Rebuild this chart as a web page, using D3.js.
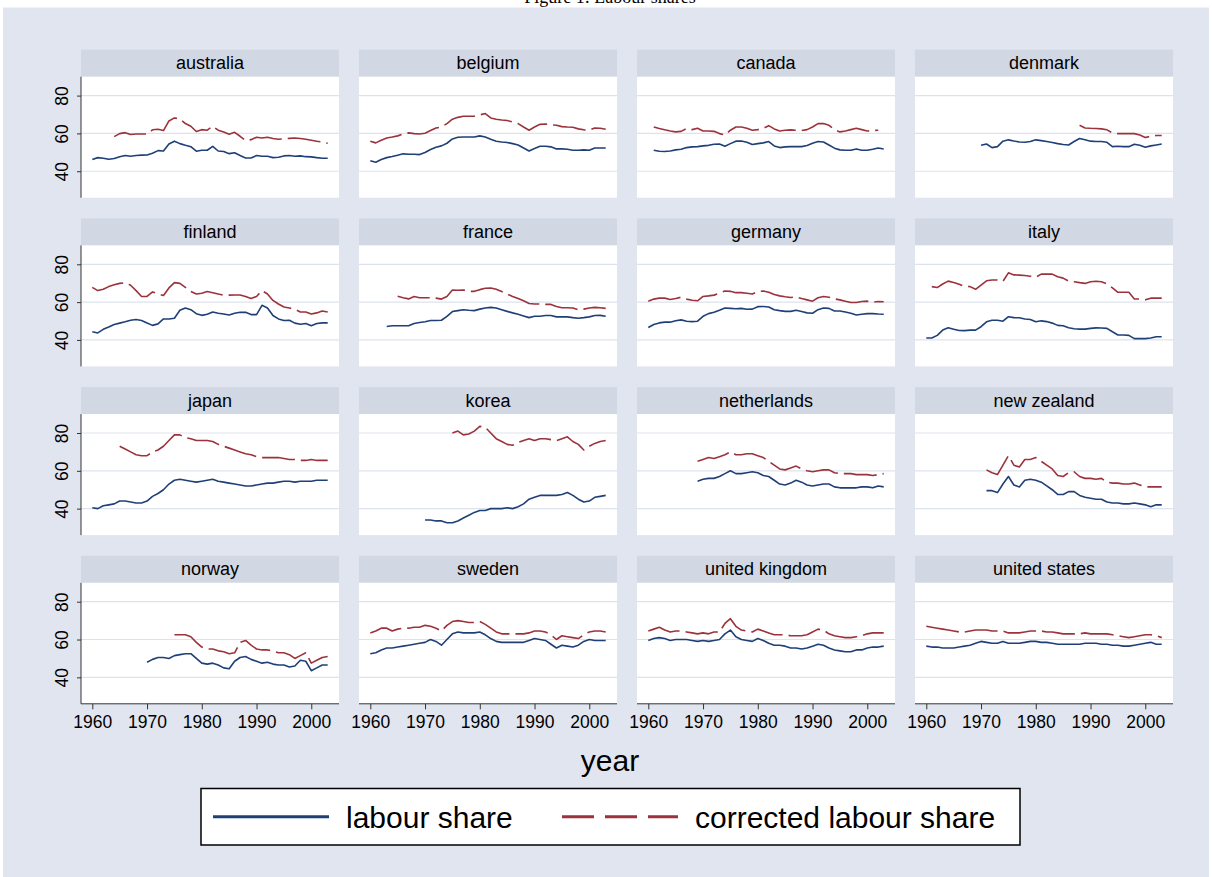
<!DOCTYPE html>
<html>
<head>
<meta charset="utf-8">
<script src="https://cdn.jsdelivr.net/npm/d3@7"></script>
<style>
  body { margin: 0; background: #fff; }
  svg { display: block; font-family: "Liberation Sans", Arial, sans-serif; }
</style>
</head>
<body>
<svg id="chart" width="1212" height="877"></svg>
<script>
'use strict';

const countries = ['australia', 'belgium', 'canada', 'denmark',
  'finland', 'france', 'germany', 'italy',
  'japan', 'korea', 'netherlands', 'new zealand',
  'norway', 'sweden', 'united kingdom', 'united states'];

const xTicks = [1960, 1970, 1980, 1990, 2000];
const yTicks = [40, 60, 80];
const seriesNames = ['labour share', 'corrected labour share'];

// first year of each series, per country
const lsStart = [1960, 1960, 1961, 1970, 1960, 1963, 1960, 1960, 1960, 1970, 1969, 1971, 1970, 1960, 1960, 1960];
const clsStart = [1964, 1960, 1961, 1988, 1960, 1965, 1960, 1961, 1965, 1975, 1969, 1971, 1975, 1960, 1960, 1960];

// labour share, yearly
const labourShare = [
  [46.2,47.2,46.9,46.3,46.7,47.7,48.3,47.9,48.3,48.5, 48.6,49.5,50.9,50.7,54.4,55.9,54.6,53.7,53.0,50.6, 51.1,51.1,53.2,50.7,50.4,49.3,49.8,48.3,47.0,47.0, 48.3,47.9,47.9,47.2,47.4,48.1,48.3,47.9,48.1,47.7, 47.6,47.2,46.9,46.9],
  [45.5,44.8,46.2,47.2,47.8,48.5,49.2,49.0,49.0,48.8, 49.9,51.5,52.7,53.4,54.8,57.1,58.0,58.1,58.1,58.1, 58.7,58.1,56.9,55.9,55.5,55.2,54.6,53.9,52.3,50.7, 52.0,53.2,53.2,52.9,51.8,51.8,51.6,51.1,51.1,51.3, 51.1,52.3,52.3,52.3],
  [51.1,50.6,50.4,50.7,51.3,51.6,52.5,52.9,53.0, 53.4,53.7,54.3,54.4,53.2,54.6,55.9,56.0,55.3,54.1, 54.6,55.0,55.7,53.4,52.5,52.9,53.0,53.0,53.0,53.6, 54.8,55.7,55.5,53.9,52.2,51.3,51.1,51.1,51.8,51.1, 51.1,51.6,52.3,51.8],
  [53.7,54.4,52.5,53.0,55.9,56.6,56.0,55.5,55.3,55.7, 56.6,56.2,55.7,55.2,54.6,54.1,53.9,55.7,57.3,56.6, 55.9,55.7,55.7,55.3,53.0,53.2,53.0,53.0,54.3,53.7, 52.7,53.4,53.9,54.4],
  [44.3,43.7,45.6,46.8,48.2,48.9,49.6,50.4,50.8,50.3, 49.0,47.7,48.5,51.1,51.1,51.5,55.7,56.9,56.0,53.9, 53.0,53.6,54.8,54.1,53.7,53.2,54.1,54.6,54.6,53.4, 53.4,58.3,56.9,52.9,51.1,50.3,50.4,48.9,48.3,48.7, 47.5,48.7,49.0,49.0],
  [47.1,47.5,47.5,47.5,47.5,48.7,49.2, 49.6,50.3,50.3,50.4,52.5,55.0,55.5,56.0,55.7,55.5, 56.3,56.9,57.2,56.9,56.0,55.1,54.3,53.6,52.7,51.8, 52.5,52.5,52.9,52.9,52.2,52.2,52.2,51.8,51.5,51.8, 52.2,52.9,53.0,52.5],
  [46.6,48.2,49.0,49.4,49.4,50.1,50.6,49.9,49.7,49.9, 52.5,53.9,54.6,55.7,56.9,56.7,56.5,56.7,56.2,56.3, 57.6,57.7,57.4,56.0,55.5,55.1,55.1,55.7,55.0,54.3, 54.1,56.0,56.9,56.7,55.3,55.3,54.8,54.1,53.2,53.6, 53.9,53.9,53.7,53.6],
  [41.0,41.0,42.4,45.2,46.4,45.7,45.0,44.9,45.2,45.2, 47.0,49.6,50.4,50.4,49.9,52.3,51.8,51.7,51.1,50.8, 49.6,50.1,49.7,48.9,47.7,47.5,46.4,45.9,45.7,45.7, 46.1,46.4,46.3,46.1,44.3,42.6,42.6,42.4,40.7,40.7, 40.7,41.0,41.7,41.7],
  [40.5,40.0,41.5,42.0,42.5,44.0,44.0,43.5,43.0,43.0, 44.0,46.5,48.0,50.0,53.0,55.0,55.5,55.0,54.5,54.0, 54.5,55.0,55.5,54.5,54.0,53.5,53.0,52.5,52.0,52.0, 52.5,53.0,53.5,53.5,54.0,54.5,54.5,54.0,54.5,54.5, 54.5,55.0,55.0,55.0],
  [34.0,34.0,33.5,33.5,32.5,32.5,33.5,35.0,36.5,38.0, 39.0,39.0,40.0,40.0,40.0,40.5,40.0,41.0,42.5,45.0, 46.0,47.0,47.0,47.0,47.0,47.5,48.5,47.0,45.0,43.5, 44.0,46.0,46.5,47.0],
  [54.5, 55.5,56.0,56.0,57.0,58.5,60.0,58.5,58.5,59.0,59.5, 59.0,57.5,57.0,55.0,53.0,52.5,53.5,55.0,54.0,52.5, 52.0,52.5,53.0,53.0,51.5,51.0,51.0,51.0,51.0,51.5, 51.5,51.0,52.0,51.5],
  [49.5,49.5,48.5,53.0,57.0,52.5,51.5,55.0,55.5, 55.0,54.0,52.0,50.0,47.5,47.5,49.0,49.0,47.0,46.0, 45.5,45.0,45.0,43.5,43.0,43.0,42.5,42.5,43.0,42.5, 42.0,41.0,42.0,42.0],
  [48.0,49.5,50.5,50.5,50.0,51.5,52.0,52.5,52.5,50.0, 47.5,47.0,47.5,46.5,45.0,44.5,48.5,50.5,51.0,49.5, 48.5,47.5,48.0,47.0,46.5,46.5,45.5,46.0,49.0,48.5, 43.5,45.0,46.5,46.5],
  [52.5,53.0,54.5,55.5,55.5,56.0,56.5,57.0,57.5,58.0, 58.5,60.0,59.0,57.0,60.0,63.0,64.0,63.5,63.5,63.5, 64.0,62.5,60.5,59.0,58.5,58.5,58.5,58.5,58.5,59.5, 60.5,60.0,59.5,57.5,55.5,57.0,56.5,56.0,57.0,59.0, 60.0,59.5,59.5,59.5],
  [59.5,60.5,61.0,60.5,59.5,60.0,60.0,60.0,59.5,59.0, 59.5,59.0,59.5,60.0,63.0,65.0,61.5,60.0,59.5,59.0, 60.5,59.5,58.0,57.0,57.0,56.5,55.5,55.5,55.0,55.5, 56.5,57.5,57.0,55.5,54.5,54.0,53.5,53.5,54.5,54.5, 55.5,56.0,56.0,56.5],
  [56.5,56.0,56.0,55.5,55.5,55.5,56.0,56.5,57.0,58.0, 59.0,58.5,58.0,58.0,59.0,58.0,58.0,58.0,58.5,59.0, 59.0,58.5,58.5,58.0,57.5,57.5,57.5,57.5,57.5,58.0, 58.0,58.0,57.5,57.5,57.0,57.0,56.5,56.5,57.0,57.5, 58.0,58.5,57.5,57.5]
];

// corrected labour share, yearly
const correctedShare = [
  [58.3,59.9,60.4,59.4,59.7,59.7, 59.7,61.9,62.2,61.5,66.6,68.2,67.7,65.2,63.8,61.0, 62.0,61.7,63.8,61.7,60.8,59.6,60.6,58.5,56.2,56.7, 58.0,57.6,58.0,57.3,56.9,57.1,57.4,57.6,57.3,56.9, 56.4,55.9,55.5,54.8],
  [55.9,55.0,56.4,57.6,58.1,58.7,59.7,60.3,59.9,59.7, 60.1,61.5,62.9,63.4,65.2,67.5,68.5,69.1,69.1,69.1, 69.8,70.5,68.2,67.5,67.1,66.8,66.1,65.2,63.4,61.7, 63.4,64.8,65.0,64.5,64.3,63.6,63.4,63.3,62.4,61.9, 61.7,62.9,62.7,62.2],
  [63.4,62.6,61.9,61.3,60.8,61.1,62.6,62.0,62.7, 61.3,61.3,61.1,59.9,59.2,61.7,63.4,63.4,62.7,61.7, 62.0,62.7,64.1,62.4,61.3,61.7,61.9,61.7,61.5,62.0, 63.4,65.2,65.2,64.3,62.0,60.8,61.3,62.0,62.7,62.0, 61.3,61.5,61.7],
  [64.3,62.9, 62.7,62.6,62.4,61.9,60.3,59.9,59.9,59.9,59.9,59.2, 57.8,58.5,58.9,58.9],
  [67.8,66.1,66.8,68.2,69.2,69.9,70.3,68.9,66.1,63.0, 63.0,65.4,64.3,63.5,67.5,70.3,69.9,67.8,65.6,64.3, 64.7,65.6,65.0,64.3,63.7,63.7,63.8,63.8,63.0,61.9, 63.0,66.1,64.3,60.9,59.0,57.4,56.9,56.3,54.8,54.8, 53.7,54.3,55.3,54.8],
  [63.1,62.3,61.7,63.0,62.3, 62.3,62.3,62.1,61.6,63.0,66.4,66.3,66.4,65.7,65.7, 66.6,67.3,67.5,66.8,65.6,64.3,63.0,61.9,60.7,59.3, 59.0,59.0,58.8,58.8,57.7,57.0,57.0,56.9,56.0,56.3, 56.9,57.2,57.0,56.7],
  [60.5,61.6,62.1,62.1,61.4,61.9,62.6,61.6,61.0,60.7, 63.0,63.3,63.7,64.7,65.9,65.7,65.0,65.0,64.7,64.3, 65.6,65.9,65.2,64.0,63.3,62.8,62.4,62.8,61.9,61.2, 60.5,62.3,63.0,62.6,61.7,61.2,60.5,59.8,59.8,60.3, 60.5,60.0,60.3,60.2],
  [68.2,67.7,69.6,71.1,70.4,69.4,68.3,68.2,66.8, 69.0,71.3,71.7,71.7,71.0,75.5,74.4,74.3,74.1,73.7, 73.2,74.8,74.8,74.8,73.4,72.7,71.1,70.8,70.3,69.9, 70.8,71.0,70.8,69.6,67.5,65.2,65.2,65.2,61.7,61.6, 61.2,62.1,62.1,62.1],
  [73.0,71.5,70.0,68.5,68.0, 68.0,70.0,71.0,73.0,76.0,79.0,79.0,77.5,77.0,76.0, 76.0,76.0,75.5,74.0,73.0,72.0,71.0,70.0,69.0,68.5, 67.5,67.0,67.0,67.0,67.0,66.5,66.0,66.0,65.5,65.5, 66.0,65.5,65.5,65.5],
  [80.0,81.0,79.0,79.5,81.0, 83.5,83.0,80.0,77.0,75.5,74.0,73.5,75.0,76.0,77.0, 76.0,77.0,77.0,76.5,76.0,77.0,78.0,75.5,74.0,71.0, 73.0,74.5,75.5,76.0],
  [65.0, 66.0,67.0,66.5,67.5,68.5,70.0,68.5,68.5,69.0,69.0, 68.0,67.0,65.0,63.0,61.0,60.5,61.5,62.5,61.0,60.0, 59.5,60.0,60.5,60.5,59.0,58.5,58.5,58.5,58.0,58.0, 58.0,57.5,58.0,58.5],
  [60.5,59.0,58.0,63.0,68.0,63.0,62.0,66.0,66.0, 67.0,65.0,63.0,61.0,57.5,57.0,59.0,59.5,57.0,56.0, 56.0,55.5,56.0,54.0,53.5,53.5,53.0,53.0,53.5,52.5, 51.5,51.5,51.5,51.5],
  [62.5,62.5,62.5,61.5,58.5, 56.0,55.0,55.0,54.0,53.5,52.5,53.0,58.5,59.5,57.0, 55.0,54.5,54.5,54.0,53.0,53.0,52.0,50.0,51.5,53.0, 47.5,49.0,50.5,51.0],
  [63.5,64.5,66.0,66.0,64.5,65.5,66.0,66.0,66.5,66.5, 67.5,67.0,66.0,64.5,67.5,69.5,70.0,69.5,69.0,69.0, 69.5,68.0,66.0,64.0,63.0,63.0,63.0,63.0,63.0,63.5, 64.5,64.5,64.0,62.5,60.0,62.0,61.5,61.0,60.5,62.5, 64.0,64.5,64.5,64.0],
  [64.5,65.5,66.5,65.0,64.0,64.5,64.5,64.0,63.5,63.0, 63.5,63.0,64.0,64.0,68.5,71.0,67.0,65.0,64.5,64.0, 65.5,64.5,63.5,62.5,62.5,62.5,62.0,62.0,62.0,62.5, 64.0,65.5,65.0,63.0,62.0,61.5,61.0,61.0,61.5,62.0, 63.0,63.5,63.5,63.5],
  [67.0,66.5,66.0,65.5,65.0,64.5,64.0,64.0,64.5,65.0, 65.0,65.0,64.5,64.5,64.5,63.5,63.5,63.5,64.0,64.5, 64.5,64.5,64.0,64.0,63.5,63.0,63.0,63.0,63.0,63.5, 63.0,63.0,63.0,63.0,62.5,62.0,61.5,61.0,61.5,62.0, 62.5,62.5,62.0,61.0]
];

const blue = '#1f3f77';
const red = '#9c323b';

const nCols = 4;
const panelW = 258;
const plotH = 121;
const stripH = 27;
const colLeft = 81;
const colStep = 278;
const rowTop = 76.7;
const rowStep = 168.7;

const svg = d3.select('#chart');

// title, mostly cut off at the top edge as in the original
svg.append('text')
  .attr('x', 610)
  .attr('y', 3)
  .attr('text-anchor', 'middle')
  .style('font-family', '"Liberation Serif", "Times New Roman", serif')
  .style('font-size', '18px')
  .text('Figure 1: Labour shares');

svg.append('rect')
  .attr('x', 3)
  .attr('y', 7.5)
  .attr('width', 1206)
  .attr('height', 869.5)
  .attr('fill', '#e0e5ef');

const x = d3.scaleLinear().domain([1960, 2003]).range([11.3, panelW - 11.3]);
const y = d3.scaleLinear().domain([26, 90]).range([plotH, 0]);

const toPoints = (start, values) => values.map((v, i) => ({year: start + i, value: v}));

const line = d3.line()
  .x(d => x(d.year))
  .y(d => y(d.value));

countries.forEach(function(name, i) {
  const col = i % nCols;
  const row = Math.floor(i / nCols);
  const g = svg.append('g')
    .attr('transform', 'translate(' + (colLeft + col * colStep) + ',' + (rowTop + row * rowStep) + ')');

  // strip with the country name
  g.append('rect')
    .attr('x', 0)
    .attr('y', -stripH)
    .attr('width', panelW)
    .attr('height', stripH)
    .attr('fill', '#d1d7e3');
  g.append('text')
    .attr('x', panelW / 2)
    .attr('y', -stripH + 19.5)
    .attr('text-anchor', 'middle')
    .style('font-size', '18px')
    .text(name);

  g.append('rect')
    .attr('width', panelW)
    .attr('height', plotH)
    .attr('fill', '#fff');

  g.selectAll('.grid')
    .data(yTicks)
    .enter()
    .append('line')
    .attr('class', 'grid')
    .attr('x1', 0)
    .attr('x2', panelW)
    .attr('y1', d => y(d))
    .attr('y2', d => y(d))
    .attr('stroke', '#dde3ee')
    .attr('stroke-width', 1.2);

  g.append('path')
    .datum(toPoints(lsStart[i], labourShare[i]))
    .attr('d', line)
    .attr('fill', 'none')
    .attr('stroke', blue)
    .attr('stroke-width', 1.6)
    .attr('stroke-linejoin', 'round');

  g.append('path')
    .datum(toPoints(clsStart[i], correctedShare[i]))
    .attr('d', line)
    .attr('fill', 'none')
    .attr('stroke', red)
    .attr('stroke-width', 1.6)
    .attr('stroke-dasharray', '33,6')
    .attr('stroke-linejoin', 'round');

  if (col === 0) {
    const yAxis = d3.axisLeft(y).tickValues(yTicks).tickSize(4).tickPadding(4);
    const ya = g.append('g').call(yAxis);
    ya.select('.domain').attr('stroke', '#333').attr('d', 'M0,0V' + plotH);
    ya.selectAll('.tick line').attr('stroke', '#333');
    ya.selectAll('.tick text')
      .attr('x', 0)
      .attr('y', 0)
      .attr('dy', null)
      .attr('text-anchor', 'middle')
      .attr('transform', 'translate(-13,0) rotate(-90)')
      .style('font-size', '17.5px')
      .style('font-family', '"Liberation Sans", Arial, sans-serif')
      .attr('fill', '#000');
  }

  if (row === 3) {
    const xAxis = d3.axisBottom(x).tickValues(xTicks).tickFormat(d3.format('d')).tickSize(5.5).tickPadding(6);
    const xa = g.append('g')
      .attr('transform', 'translate(0,' + plotH + ')')
      .call(xAxis);
    xa.select('.domain').attr('stroke', '#333').attr('d', 'M0,0H' + panelW);
    xa.selectAll('.tick line').attr('stroke', '#333');
    xa.selectAll('.tick text')
      .style('font-size', '17.5px')
      .style('font-family', '"Liberation Sans", Arial, sans-serif')
      .attr('fill', '#000');
  }
});

svg.append('text')
  .attr('x', 610)
  .attr('y', 771)
  .attr('text-anchor', 'middle')
  .style('font-size', '30px')
  .text('year');

// legend
const legend = svg.append('g').attr('transform', 'translate(201,788.5)');
legend.append('rect')
  .attr('width', 819)
  .attr('height', 56.5)
  .attr('fill', '#fff')
  .attr('stroke', '#000')
  .attr('stroke-width', 1.5);

const legendItems = legend.selectAll('.item')
  .data(seriesNames)
  .enter()
  .append('g')
  .attr('class', 'item')
  .attr('transform', (d, i) => 'translate(' + [12, 361][i] + ',28.2)');

legendItems.append('line')
  .attr('x1', 0)
  .attr('x2', 116)
  .attr('stroke', (d, i) => [blue, red][i])
  .attr('stroke-width', 3)
  .attr('stroke-dasharray', (d, i) => i === 1 ? '32,11' : null);

legendItems.append('text')
  .attr('x', 133)
  .attr('y', 11)
  .style('font-size', '30px')
  .text(d => d);
</script>
</body>
</html>
